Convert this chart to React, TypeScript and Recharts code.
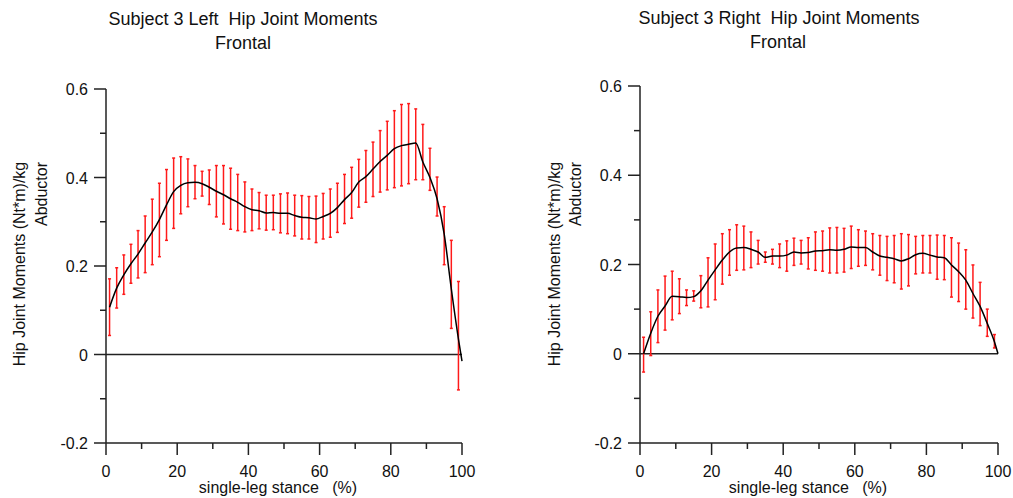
import { ComposedChart, Line, ErrorBar, XAxis, YAxis, ReferenceLine } from 'recharts'

// % of single-leg stance where the curve is sampled (error bars on odd values)
const stance = [
  1, 3, 5, 7, 9, 11, 13, 15, 17, 19, 21, 23, 25, 27, 29, 31, 33, 35, 37, 39, 41, 43, 45, 47, 49,
  51, 53, 55, 57, 59, 61, 63, 65, 67, 69, 71, 73, 75, 77, 79, 81, 83, 85, 87, 89, 91, 93, 95, 97, 99, 100,
]

// left hip
const leftMean = [
  0.107, 0.150, 0.180, 0.205, 0.227, 0.252, 0.277, 0.305, 0.338, 0.368, 0.382, 0.388, 0.389, 0.386, 0.378,
  0.369, 0.361, 0.352, 0.344, 0.334, 0.327, 0.325, 0.320, 0.321, 0.319, 0.319, 0.314, 0.310, 0.309, 0.306,
  0.312, 0.319, 0.332, 0.350, 0.366, 0.390, 0.402, 0.419, 0.436, 0.450, 0.465, 0.472, 0.475, 0.478, 0.435,
  0.400, 0.352, 0.272, 0.148, 0.035, -0.015,
]
const leftLow = [
  0.043, 0.105, 0.136, 0.161, 0.173, 0.185, 0.203, 0.221, 0.258, 0.285, 0.318, 0.334, 0.352, 0.358, 0.339,
  0.311, 0.295, 0.283, 0.280, 0.277, 0.280, 0.284, 0.281, 0.282, 0.275, 0.273, 0.268, 0.261, 0.261, 0.253,
  0.261, 0.265, 0.276, 0.296, 0.308, 0.333, 0.344, 0.357, 0.367, 0.372, 0.377, 0.381, 0.386, 0.395, 0.395,
  0.371, 0.313, 0.203, 0.059, -0.080, null,
]
const leftHigh = [
  0.171, 0.196, 0.225, 0.249, 0.280, 0.313, 0.351, 0.387, 0.418, 0.444, 0.447, 0.442, 0.427, 0.414, 0.417,
  0.427, 0.427, 0.421, 0.407, 0.390, 0.374, 0.366, 0.360, 0.360, 0.363, 0.365, 0.360, 0.359, 0.357, 0.358,
  0.364, 0.374, 0.387, 0.407, 0.423, 0.441, 0.461, 0.480, 0.506, 0.527, 0.551, 0.565, 0.567, 0.555, 0.520,
  0.466, 0.401, 0.334, 0.258, 0.165, null,
]

// right hip
const rightMean = [
  0.000, 0.046, 0.084, 0.107, 0.129, 0.128, 0.126, 0.128, 0.141, 0.165, 0.188, 0.210, 0.228, 0.237, 0.238,
  0.234, 0.228, 0.216, 0.219, 0.219, 0.221, 0.228, 0.226, 0.227, 0.230, 0.231, 0.233, 0.232, 0.234, 0.239,
  0.238, 0.238, 0.228, 0.219, 0.216, 0.213, 0.208, 0.213, 0.222, 0.225, 0.221, 0.217, 0.215, 0.199, 0.184,
  0.165, 0.135, 0.106, 0.068, 0.027, 0.000,
]
const rightLow = [
  -0.041, -0.004, 0.025, 0.053, 0.076, 0.090, 0.108, 0.118, 0.103, 0.105, 0.121, 0.156, 0.176, 0.187, 0.188,
  0.193, 0.201, 0.205, 0.201, 0.193, 0.185, 0.198, 0.201, 0.190, 0.187, 0.185, 0.181, 0.181, 0.183, 0.191,
  0.196, 0.198, 0.188, 0.176, 0.164, 0.159, 0.145, 0.152, 0.179, 0.181, 0.181, 0.167, 0.166, 0.127, 0.117,
  0.100, 0.080, 0.063, 0.039, 0.013, null,
]
const rightHigh = [
  0.037, 0.094, 0.143, 0.174, 0.185, 0.168, 0.143, 0.141, 0.175, 0.215, 0.246, 0.269, 0.278, 0.289, 0.286,
  0.273, 0.254, 0.228, 0.234, 0.246, 0.253, 0.259, 0.254, 0.260, 0.273, 0.275, 0.282, 0.283, 0.281, 0.286,
  0.278, 0.275, 0.269, 0.265, 0.263, 0.265, 0.269, 0.267, 0.263, 0.265, 0.265, 0.266, 0.265, 0.260, 0.248,
  0.233, 0.199, 0.160, 0.100, 0.043, null,
]

const xTicks = [0, 10, 20, 30, 40, 50, 60, 70, 80, 90, 100]
const yTicks = [-0.2, -0.1, 0, 0.1, 0.2, 0.3, 0.4, 0.5, 0.6]

const FONT = '"Liberation Sans", Arial, Helvetica, sans-serif'

function buildRows(mean: number[], low: (number | null)[], high: (number | null)[]) {
  return stance.map((x, i) => {
    const lo = low[i]
    const hi = high[i]
    return {
      x,
      mean: mean[i],
      err: lo == null || hi == null ? null : [mean[i] - lo, hi - mean[i]],
    }
  })
}

function XTick(props: any) {
  const { x, y, payload } = props
  const v = payload.value
  const major = v % 20 === 0
  return (
    <g>
      <line x1={x} x2={x} y1={y} y2={y + (major ? 12 : 6)} stroke="#222" strokeWidth={1.5} />
      {major && (
        <text x={x} y={y + 34} textAnchor="middle" fontSize={16} fontFamily={FONT} fill="#111">
          {v}
        </text>
      )}
    </g>
  )
}

function YTick(props: any) {
  const { x, y, payload } = props
  const v = payload.value
  const major = Math.round(v * 10) % 2 === 0
  return (
    <g>
      <line x1={x - (major ? 12 : 6)} x2={x} y1={y} y2={y} stroke="#222" strokeWidth={1.5} />
      {major && (
        <text x={x - 18} y={y + 6} textAnchor="end" fontSize={16} fontFamily={FONT} fill="#111">
          {Math.abs(v) < 1e-9 ? '0' : v.toFixed(1)}
        </text>
      )}
    </g>
  )
}

function MomentChart({ rows, width, margin }: { rows: any[]; width: number; margin: any }) {
  return (
    <ComposedChart width={width} height={498} data={rows} margin={margin}>
      <XAxis
        type="number"
        dataKey="x"
        domain={[0, 100]}
        ticks={xTicks}
        interval={0}
        height={30}
        tickSize={0}
        tickMargin={0}
        tickLine={false}
        axisLine={{ stroke: '#222', strokeWidth: 1.5 }}
        tick={<XTick />}
      />
      <YAxis
        type="number"
        domain={[-0.2, 0.6]}
        ticks={yTicks}
        interval={0}
        width={60}
        tickSize={0}
        tickMargin={0}
        tickLine={false}
        axisLine={{ stroke: '#222', strokeWidth: 1.5 }}
        tick={<YTick />}
      />
      <ReferenceLine y={0} stroke="#222" strokeWidth={1.5} />
      <Line
        type="monotone"
        dataKey="mean"
        stroke="#000"
        strokeWidth={1.5}
        dot={false}
        activeDot={false}
        isAnimationActive={false}
      >
        <ErrorBar dataKey="err" direction="y" width={1.5} stroke="#ff1a1a" strokeWidth={1.5} isAnimationActive={false} />
      </Line>
    </ComposedChart>
  )
}

export default function App() {
  const leftRows = buildRows(leftMean, leftLow, leftHigh)
  const rightRows = buildRows(rightMean, rightLow, rightHigh)
  const textStyle = { fontFamily: FONT, fill: '#111', whiteSpace: 'pre' as const }

  return (
    <div style={{ position: 'absolute', left: 0, top: 0, width: 1013, height: 498, background: '#fff' }}>
      <div style={{ position: 'absolute', left: 0, top: 0 }}>
        <MomentChart rows={leftRows} width={506} margin={{ top: 89, right: 44, bottom: 25, left: 46 }} />
      </div>
      <div style={{ position: 'absolute', left: 506, top: 0 }}>
        <MomentChart rows={rightRows} width={507} margin={{ top: 86, right: 15, bottom: 25, left: 74 }} />
      </div>
      <svg
        width={1013}
        height={498}
        style={{ position: 'absolute', left: 0, top: 0, pointerEvents: 'none' }}
      >
        <text x={243} y={25} textAnchor="middle" fontSize={18} style={textStyle}>
          {'Subject 3 Left  Hip Joint Moments'}
        </text>
        <text x={243} y={49} textAnchor="middle" fontSize={18} style={textStyle}>
          Frontal
        </text>
        <text x={779} y={24} textAnchor="middle" fontSize={18} style={textStyle}>
          {'Subject 3 Right  Hip Joint Moments'}
        </text>
        <text x={778} y={48} textAnchor="middle" fontSize={18} style={textStyle}>
          Frontal
        </text>

        <text x={278} y={493} textAnchor="middle" fontSize={16} style={textStyle}>
          {'single-leg stance   (%)'}
        </text>
        <text x={808} y={493} textAnchor="middle" fontSize={16} style={textStyle}>
          {'single-leg stance   (%)'}
        </text>

        <text transform="translate(25,264) rotate(-90)" textAnchor="middle" fontSize={16} style={textStyle}>
          Hip Joint Moments (Nt*m)/kg
        </text>
        <text transform="translate(47,194) rotate(-90)" textAnchor="middle" fontSize={16} style={textStyle}>
          Abductor
        </text>
        <text transform="translate(560,264) rotate(-90)" textAnchor="middle" fontSize={16} style={textStyle}>
          Hip Joint Moments (Nt*m)/kg
        </text>
        <text transform="translate(581,194) rotate(-90)" textAnchor="middle" fontSize={16} style={textStyle}>
          Abductor
        </text>
      </svg>
    </div>
  )
}
